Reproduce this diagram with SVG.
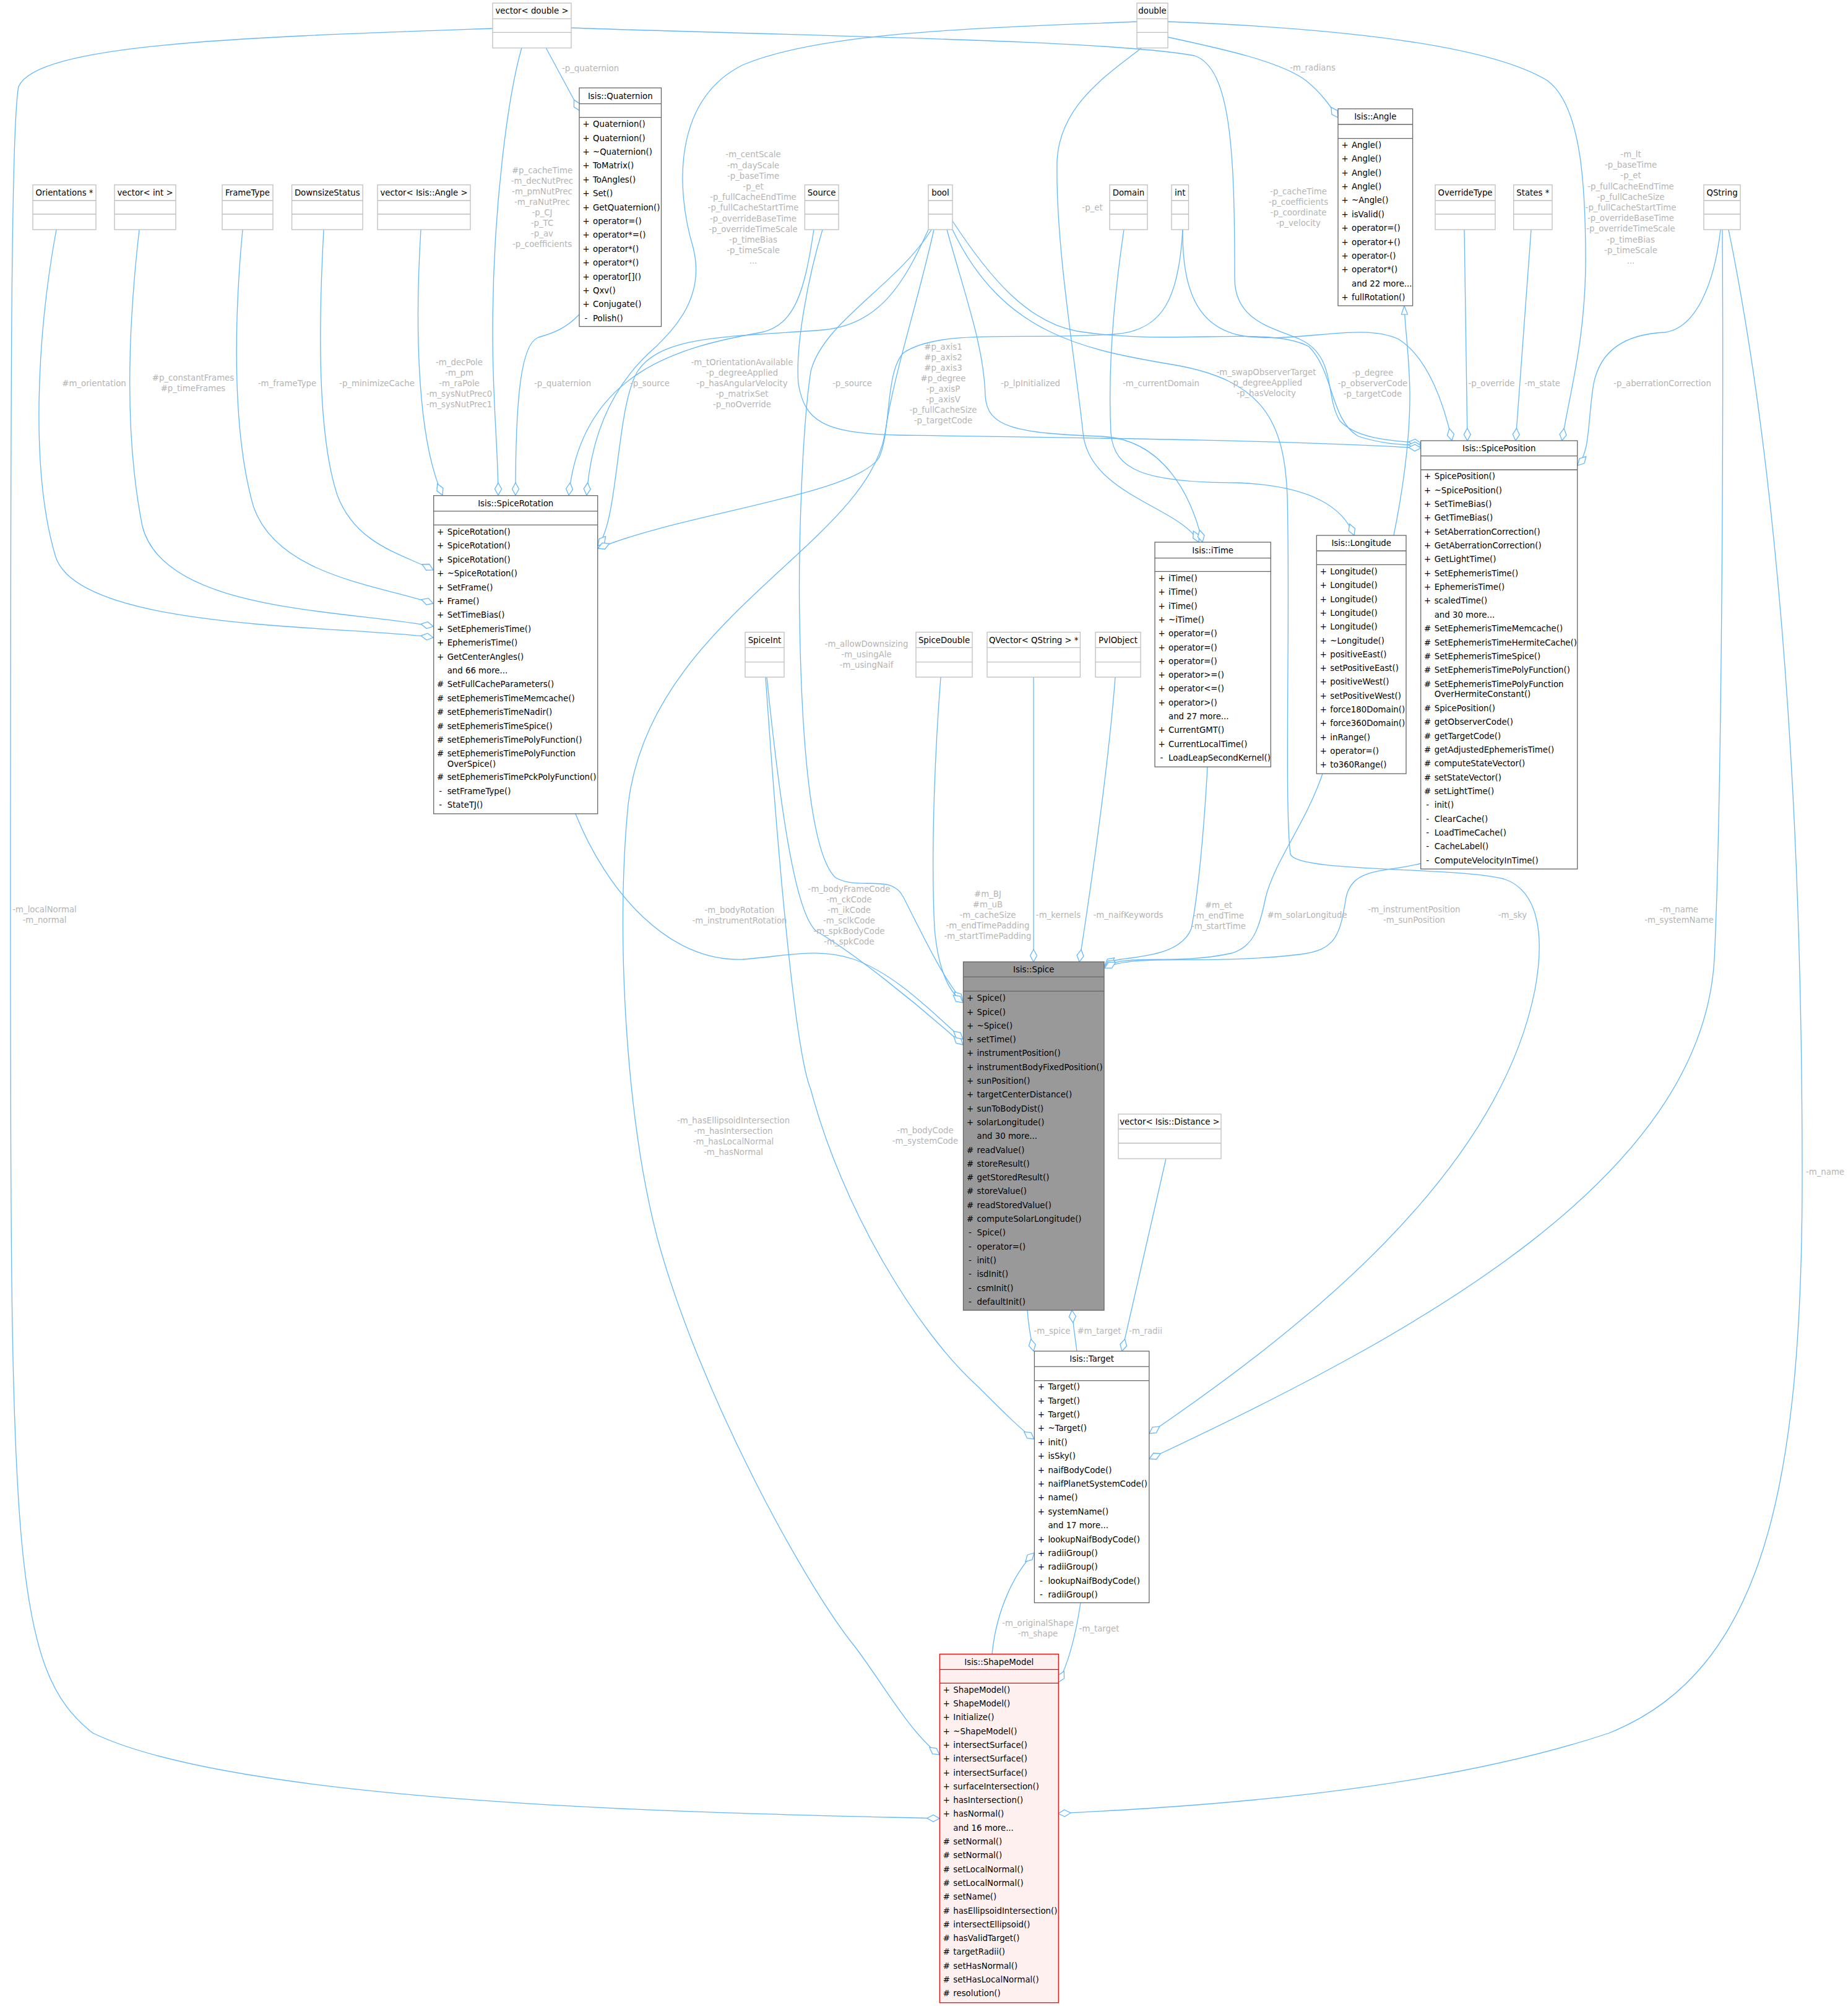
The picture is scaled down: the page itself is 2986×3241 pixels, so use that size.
<svg xmlns="http://www.w3.org/2000/svg" width="2986" height="3241" viewBox="0 0 2986 3241">
<defs>
<style>
text{font-family:"DejaVu Sans","Liberation Sans",sans-serif;font-size:13.3px;fill:#000}
.c{text-anchor:middle}
.l{fill:#b4b4b4;text-anchor:middle}
.b{fill:#fff;stroke:#666;stroke-width:1.3}
.g{fill:#fff;stroke:#bfbfbf;stroke-width:1.3}
.gl{fill:none;stroke:#bfbfbf;stroke-width:1.3}
.bl{fill:none;stroke:#666;stroke-width:1.3}
.e{fill:none;stroke:#63b8ff;stroke-width:1.3;marker-end:url(#d)}
.i{fill:none;stroke:#63b8ff;stroke-width:1.3;marker-end:url(#t)}
</style>
<marker id="d" markerUnits="userSpaceOnUse" markerWidth="22" markerHeight="13" viewBox="-1 -1 22 13" refX="20" refY="5.5" orient="auto"><path d="M0,5.5L10,0L20,5.5L10,11Z" fill="#fff" stroke="#63b8ff" stroke-width="1.3"/></marker>
<marker id="t" markerUnits="userSpaceOnUse" markerWidth="16" markerHeight="12" viewBox="-1 -1 16 12" refX="14" refY="5" orient="auto"><path d="M0,0L14,5L0,10Z" fill="#fff" stroke="#63b8ff" stroke-width="1.3"/></marker>
</defs>
<rect width="2986" height="3241" fill="#fff"/>

<g id="edges">
<path class="e" d="M882,77 L937,179"/>
<path class="e" d="M843,77 C822,150 796,330 796,540 C796,650 805,730 805,800"/>
<path class="e" d="M936,508 C915,530 895,538 870,545 C842,555 833,640 833,800"/>
<path class="e" d="M680,371 C672,500 670,700 715,800"/>
<path class="e" d="M523,371 C515,520 512,700 545,800 C575,880 650,895 700,921"/>
<path class="e" d="M392,371 C378,520 375,700 410,820 C450,930 610,945 700,975"/>
<path class="e" d="M225,371 C208,520 200,700 230,850 C265,990 560,985 700,1012"/>
<path class="e" d="M91,371 C60,540 48,760 90,900 C130,1020 560,1010 700,1030"/>
<path class="e" d="M1315,371 C1300,470 1285,525 1230,537 C1100,560 940,600 919,800"/>
<path class="e" d="M1837,35 C1600,45 1330,50 1200,105 C1090,160 1090,300 1120,400 C1140,480 1090,530 1060,560 C990,620 955,700 948,800"/>
<path class="e" d="M1500,371 C1460,460 1420,525 1330,533 C1180,545 1070,540 1030,600 C995,660 1000,840 966,882"/>
<path class="e" d="M1911,371 C1905,480 1880,535 1800,540 C1650,550 1520,530 1460,570 C1430,600 1440,700 1420,740 C1380,800 1100,830 966,886"/>
<path class="e" d="M923,45 C1300,58 1800,65 1930,90 C1990,110 1995,250 1995,450 C1995,520 2060,530 2100,548 C2160,575 2140,640 2165,680 C2195,712 2260,712 2296,716"/>
<path class="e" d="M1887,35 C2150,45 2400,70 2500,130 C2555,170 2562,300 2562,420 C2562,550 2535,640 2524,712"/>
<path class="e" d="M1911,371 C1910,460 1930,530 2010,543 C2100,555 2200,520 2260,548 C2310,580 2335,660 2346,712"/>
<path class="e" d="M2366,371 L2371,712"/>
<path class="e" d="M2474,371 L2449,712"/>
<path class="e" d="M2780,371 C2770,460 2740,530 2690,537 C2620,540 2585,570 2575,620 C2565,680 2570,730 2549,752"/>
<path class="e" d="M1539,357 C1600,450 1660,520 1740,535 C1900,560 2050,525 2115,560 C2155,600 2150,680 2195,705 C2235,718 2265,718 2296,720"/>
<path class="e" d="M1329,371 C1305,450 1285,560 1290,620 C1300,680 1330,700 1450,703 C1800,708 2100,712 2296,724"/>
<path class="e" d="M1887,60 C1980,80 2070,100 2110,130 C2135,150 2150,172 2162,190"/>
<path class="i" d="M2252,865 C2265,800 2278,720 2278,640 C2278,580 2270,530 2269,494"/>
<path class="e" d="M1845,77 C1790,120 1712,170 1708,260 C1705,400 1740,600 1750,700 C1760,800 1910,820 1937,876"/>
<path class="e" d="M1530,371 C1560,480 1590,560 1592,640 C1595,690 1640,700 1780,705 C1880,710 1925,800 1943,876"/>
<path class="e" d="M1816,371 C1800,480 1790,600 1795,700 C1800,760 1850,780 2000,780 C2120,785 2170,820 2188,865"/>
<path class="e" d="M1539,371 C1620,540 1750,565 1900,590 C2040,615 2075,680 2080,800 C2085,1000 2075,1300 2085,1380 C2095,1410 2350,1400 2430,1420 C2490,1440 2495,1520 2480,1600 C2420,1900 2100,2150 1857,2316"/>
<path class="e" d="M2783,371 C2785,700 2782,1300 2770,1550 C2750,1900 2300,2150 1857,2357"/>
<path class="e" d="M2793,371 C2860,700 2912,1200 2912,1900 C2912,2400 2850,2700 2600,2800 C2300,2900 1900,2920 1710,2930"/>
<path class="e" d="M796,46 C400,60 60,70 30,140 C18,200 17,600 17,1500 C17,2500 20,2700 150,2800 C400,2920 1200,2930 1518,2938"/>
<path class="e" d="M1509,371 C1480,500 1445,600 1430,700 C1400,880 1050,1000 1015,1300 C995,1500 1010,1800 1062,2000 C1130,2250 1300,2560 1381,2660 C1420,2710 1470,2800 1518,2835"/>
<path class="e" d="M1505,371 C1450,460 1330,520 1310,600 C1295,700 1290,900 1292,1000 C1295,1200 1310,1380 1350,1418 C1390,1440 1440,1410 1460,1450 C1500,1530 1530,1590 1556,1617"/>
<path class="e" d="M1520,1094 C1508,1250 1505,1400 1510,1500 C1515,1560 1530,1600 1556,1620"/>
<path class="e" d="M1239,1094 C1260,1300 1285,1480 1320,1505 C1380,1540 1480,1620 1556,1688"/>
<path class="e" d="M930,1315 C980,1440 1080,1555 1200,1550 C1270,1545 1320,1530 1380,1550 C1450,1575 1510,1640 1556,1679"/>
<path class="e" d="M1670,1094 L1670,1554"/>
<path class="e" d="M1802,1094 C1790,1250 1760,1450 1744,1554"/>
<path class="e" d="M1951,1239 C1945,1350 1935,1450 1925,1500 C1910,1540 1850,1545 1810,1550 C1798,1552 1790,1556 1785,1560"/>
<path class="e" d="M2137,1250 C2110,1330 2060,1390 2045,1450 C2035,1500 2025,1530 1990,1540 C1900,1560 1820,1540 1785,1562"/>
<path class="e" d="M2296,1395 C2240,1410 2185,1400 2175,1450 C2165,1510 2160,1535 2100,1542 C1950,1560 1830,1540 1785,1564"/>
<path class="e" d="M1660,2117 C1662,2145 1666,2165 1670,2183"/>
<path class="e" d="M1740,2183 C1737,2160 1734,2140 1732,2117"/>
<path class="e" d="M1884,1872 L1813,2183"/>
<path class="e" d="M1237,1094 C1258,1400 1285,1700 1310,1760 C1360,1950 1480,2150 1580,2240 C1620,2280 1650,2310 1671,2325"/>
<path class="e" d="M1746,2589 C1740,2630 1730,2680 1710,2718"/>
<path class="e" d="M1603,2672 C1610,2600 1640,2540 1671,2509"/>
</g>

<g id="labels">
<text class="l" x="954" y="114.7">-p_quaternion</text>
<text class="l" y="280.2"><tspan x="876">#p_cacheTime</tspan><tspan x="876" dy="17">-m_decNutPrec</tspan><tspan x="876" dy="17">-m_pmNutPrec</tspan><tspan x="876" dy="17">-m_raNutPrec</tspan><tspan x="876" dy="17">-p_CJ</tspan><tspan x="876" dy="17">-p_TC</tspan><tspan x="876" dy="17">-p_av</tspan><tspan x="876" dy="17">-p_coefficients</tspan></text>
<text class="l" y="254.4"><tspan x="1217">-m_centScale</tspan><tspan x="1217" dy="17.2">-m_dayScale</tspan><tspan x="1217" dy="17.2">-p_baseTime</tspan><tspan x="1217" dy="17.2">-p_et</tspan><tspan x="1217" dy="17.2">-p_fullCacheEndTime</tspan><tspan x="1217" dy="17.2">-p_fullCacheStartTime</tspan><tspan x="1217" dy="17.2">-p_overrideBaseTime</tspan><tspan x="1217" dy="17.2">-p_overrideTimeScale</tspan><tspan x="1217" dy="17.2">-p_timeBias</tspan><tspan x="1217" dy="17.2">-p_timeScale</tspan><tspan x="1217" dy="17.2">...</tspan></text>
<text class="l" x="2121" y="113.7">-m_radians</text>
<text class="l" y="254"><tspan x="2635">-m_lt</tspan><tspan x="2635" dy="17.2">-p_baseTime</tspan><tspan x="2635" dy="17.2">-p_et</tspan><tspan x="2635" dy="17.2">-p_fullCacheEndTime</tspan><tspan x="2635" dy="17.2">-p_fullCacheSize</tspan><tspan x="2635" dy="17.2">-p_fullCacheStartTime</tspan><tspan x="2635" dy="17.2">-p_overrideBaseTime</tspan><tspan x="2635" dy="17.2">-p_overrideTimeScale</tspan><tspan x="2635" dy="17.2">-p_timeBias</tspan><tspan x="2635" dy="17.2">-p_timeScale</tspan><tspan x="2635" dy="17.2">...</tspan></text>
<text class="l" y="313.7"><tspan x="2098">-p_cacheTime</tspan><tspan x="2098" dy="17">-p_coefficients</tspan><tspan x="2098" dy="17">-p_coordinate</tspan><tspan x="2098" dy="17">-p_velocity</tspan></text>
<text class="l" x="1765" y="339.7">-p_et</text>
<text class="l" x="152" y="624">#m_orientation</text>
<text class="l" y="615.4"><tspan x="312">#p_constantFrames</tspan><tspan x="312" dy="17">#p_timeFrames</tspan></text>
<text class="l" x="464" y="624">-m_frameType</text>
<text class="l" x="609" y="624">-p_minimizeCache</text>
<text class="l" y="589.7"><tspan x="742">-m_decPole</tspan><tspan x="742" dy="17">-m_pm</tspan><tspan x="742" dy="17">-m_raPole</tspan><tspan x="742" dy="17">-m_sysNutPrec0</tspan><tspan x="742" dy="17">-m_sysNutPrec1</tspan></text>
<text class="l" x="909" y="623.7">-p_quaternion</text>
<text class="l" x="1050" y="623.7">-p_source</text>
<text class="l" y="590.4"><tspan x="1199">-m_tOrientationAvailable</tspan><tspan x="1199" dy="17">-p_degreeApplied</tspan><tspan x="1199" dy="17">-p_hasAngularVelocity</tspan><tspan x="1199" dy="17">-p_matrixSet</tspan><tspan x="1199" dy="17">-p_noOverride</tspan></text>
<text class="l" x="1377" y="624">-p_source</text>
<text class="l" y="564.7"><tspan x="1524">#p_axis1</tspan><tspan x="1524" dy="17">#p_axis2</tspan><tspan x="1524" dy="17">#p_axis3</tspan><tspan x="1524" dy="17">#p_degree</tspan><tspan x="1524" dy="17">-p_axisP</tspan><tspan x="1524" dy="17">-p_axisV</tspan><tspan x="1524" dy="17">-p_fullCacheSize</tspan><tspan x="1524" dy="17">-p_targetCode</tspan></text>
<text class="l" x="1665" y="623.7">-p_lpInitialized</text>
<text class="l" x="1876" y="623.7">-m_currentDomain</text>
<text class="l" y="606.2"><tspan x="2046">-m_swapObserverTarget</tspan><tspan x="2046" dy="17">-p_degreeApplied</tspan><tspan x="2046" dy="17">-p_hasVelocity</tspan></text>
<text class="l" y="607.1"><tspan x="2218">-p_degree</tspan><tspan x="2218" dy="17">-p_observerCode</tspan><tspan x="2218" dy="17">-p_targetCode</tspan></text>
<text class="l" x="2410" y="624.1">-p_override</text>
<text class="l" x="2492" y="624.1">-m_state</text>
<text class="l" x="2686" y="624.1">-p_aberrationCorrection</text>
<text class="l" y="1044.7"><tspan x="1400">-m_allowDownsizing</tspan><tspan x="1400" dy="17">-m_usingAle</tspan><tspan x="1400" dy="17">-m_usingNaif</tspan></text>
<text class="l" y="1473.7"><tspan x="72">-m_localNormal</tspan><tspan x="72" dy="17">-m_normal</tspan></text>
<text class="l" y="1474.7"><tspan x="1195">-m_bodyRotation</tspan><tspan x="1195" dy="17">-m_instrumentRotation</tspan></text>
<text class="l" y="1440.7"><tspan x="1372">-m_bodyFrameCode</tspan><tspan x="1372" dy="17">-m_ckCode</tspan><tspan x="1372" dy="17">-m_ikCode</tspan><tspan x="1372" dy="17">-m_sclkCode</tspan><tspan x="1372" dy="17">-m_spkBodyCode</tspan><tspan x="1372" dy="17">-m_spkCode</tspan></text>
<text class="l" y="1449.3"><tspan x="1596">#m_BJ</tspan><tspan x="1596" dy="17">#m_uB</tspan><tspan x="1596" dy="17">-m_cacheSize</tspan><tspan x="1596" dy="17">-m_endTimePadding</tspan><tspan x="1596" dy="17">-m_startTimePadding</tspan></text>
<text class="l" x="1710" y="1483.3">-m_kernels</text>
<text class="l" x="1823" y="1483.3">-m_naifKeywords</text>
<text class="l" y="1466.5"><tspan x="1969">#m_et</tspan><tspan x="1969" dy="17">-m_endTime</tspan><tspan x="1969" dy="17">-m_startTime</tspan></text>
<text class="l" x="2112" y="1482.7">#m_solarLongitude</text>
<text class="l" y="1473.7"><tspan x="2285">-m_instrumentPosition</tspan><tspan x="2285" dy="17">-m_sunPosition</tspan></text>
<text class="l" x="2444" y="1482.7">-m_sky</text>
<text class="l" y="1473.7"><tspan x="2713">-m_name</tspan><tspan x="2713" dy="17">-m_systemName</tspan></text>
<text class="l" y="1814.7"><tspan x="1185">-m_hasEllipsoidIntersection</tspan><tspan x="1185" dy="17">-m_hasIntersection</tspan><tspan x="1185" dy="17">-m_hasLocalNormal</tspan><tspan x="1185" dy="17">-m_hasNormal</tspan></text>
<text class="l" y="1831.3"><tspan x="1495">-m_bodyCode</tspan><tspan x="1495" dy="17">-m_systemCode</tspan></text>
<text class="l" x="2949" y="1897.7">-m_name</text>
<text class="l" x="1700" y="2154.5">-m_spice</text>
<text class="l" x="1776" y="2154.5">#m_target</text>
<text class="l" x="1851" y="2154.5">-m_radii</text>
<text class="l" y="2626.7"><tspan x="1677">-m_originalShape</tspan><tspan x="1677" dy="17">-m_shape</tspan></text>
<text class="l" x="1776" y="2635.7">-m_target</text>
</g>

<g id="vector_double"><rect class="g" x="796" y="5" width="127" height="72.5"/><path class="gl" d="M796,30.3H923M796,52.3H923"/><text class="c" x="859.5" y="22.4">vector&lt; double &gt;</text></g>
<g id="double"><rect class="g" x="1837" y="5" width="50" height="72.5"/><path class="gl" d="M1837,30.3H1887M1837,52.3H1887"/><text class="c" x="1862" y="22.4">double</text></g>
<g id="orientations"><rect class="g" x="53" y="298.7" width="102" height="72.3"/><path class="gl" d="M53,324H155M53,346H155"/><text class="c" x="104" y="316.1">Orientations *</text></g>
<g id="vector_int"><rect class="g" x="185" y="298.7" width="99" height="72.3"/><path class="gl" d="M185,324H284M185,346H284"/><text class="c" x="234.5" y="316.1">vector&lt; int &gt;</text></g>
<g id="frametype"><rect class="g" x="359" y="298.7" width="82" height="72.3"/><path class="gl" d="M359,324H441M359,346H441"/><text class="c" x="400" y="316.1">FrameType</text></g>
<g id="downsizestatus"><rect class="g" x="471.6" y="298.7" width="114.5" height="72.3"/><path class="gl" d="M471.6,324H586.1M471.6,346H586.1"/><text class="c" x="528.8" y="316.1">DownsizeStatus</text></g>
<g id="vector_angle"><rect class="g" x="610" y="298.7" width="150" height="72.3"/><path class="gl" d="M610,324H760M610,346H760"/><text class="c" x="685" y="316.1">vector&lt; Isis::Angle &gt;</text></g>
<g id="source"><rect class="g" x="1300.4" y="298.7" width="54.6" height="72.3"/><path class="gl" d="M1300.4,324H1355M1300.4,346H1355"/><text class="c" x="1327.7" y="316.1">Source</text></g>
<g id="bool"><rect class="g" x="1500" y="298.7" width="39" height="72.3"/><path class="gl" d="M1500,324H1539M1500,346H1539"/><text class="c" x="1519.5" y="316.1">bool</text></g>
<g id="domain"><rect class="g" x="1793" y="298.7" width="61" height="72.3"/><path class="gl" d="M1793,324H1854M1793,346H1854"/><text class="c" x="1823.5" y="316.1">Domain</text></g>
<g id="int"><rect class="g" x="1893" y="298.7" width="27.5" height="72.3"/><path class="gl" d="M1893,324H1920.5M1893,346H1920.5"/><text class="c" x="1906.7" y="316.1">int</text></g>
<g id="overridetype"><rect class="g" x="2319" y="298.7" width="97" height="72.3"/><path class="gl" d="M2319,324H2416M2319,346H2416"/><text class="c" x="2367.5" y="316.1">OverrideType</text></g>
<g id="states"><rect class="g" x="2445.7" y="298.7" width="62.3" height="72.3"/><path class="gl" d="M2445.7,324H2508M2445.7,346H2508"/><text class="c" x="2476.8" y="316.1">States *</text></g>
<g id="qstring"><rect class="g" x="2753" y="298.7" width="59" height="72.3"/><path class="gl" d="M2753,324H2812M2753,346H2812"/><text class="c" x="2782.5" y="316.1">QString</text></g>
<g id="spiceint"><rect class="g" x="1204" y="1021.4" width="63" height="72.6"/><path class="gl" d="M1204,1046.4H1267M1204,1069.6H1267"/><text class="c" x="1235.5" y="1038.8">SpiceInt</text></g>
<g id="spicedouble"><rect class="g" x="1480" y="1021.4" width="91" height="72.6"/><path class="gl" d="M1480,1046.4H1571M1480,1069.6H1571"/><text class="c" x="1525.5" y="1038.8">SpiceDouble</text></g>
<g id="qvector"><rect class="g" x="1595" y="1021.4" width="150.4" height="72.6"/><path class="gl" d="M1595,1046.4H1745.4M1595,1069.6H1745.4"/><text class="c" x="1670.2" y="1038.8">QVector&lt; QString &gt; *</text></g>
<g id="pvlobject"><rect class="g" x="1770" y="1021.4" width="73" height="72.6"/><path class="gl" d="M1770,1046.4H1843M1770,1069.6H1843"/><text class="c" x="1806.5" y="1038.8">PvlObject</text></g>
<g id="vector_distance"><rect class="g" x="1807" y="1800" width="166" height="72"/><path class="gl" d="M1807,1824H1973M1807,1847H1973"/><text class="c" x="1890" y="1817.4">vector&lt; Isis::Distance &gt;</text></g>

<g id="quaternion"><rect class="b" x="936" y="142" width="132.5" height="385.5"/><path class="bl" d="M936,167.7H1068.5M936,189.7H1068.5"/><text class="c" x="1002.3" y="159.7">Isis::Quaternion</text>
<text class="c" x="947" y="205.1">+</text><text x="958" y="205.1">Quaternion()</text>
<text class="c" x="947" y="227.5">+</text><text x="958" y="227.5">Quaternion()</text>
<text class="c" x="947" y="249.9">+</text><text x="958" y="249.9">~Quaternion()</text>
<text class="c" x="947" y="272.3">+</text><text x="958" y="272.3">ToMatrix()</text>
<text class="c" x="947" y="294.7">+</text><text x="958" y="294.7">ToAngles()</text>
<text class="c" x="947" y="317.1">+</text><text x="958" y="317.1">Set()</text>
<text class="c" x="947" y="339.5">+</text><text x="958" y="339.5">GetQuaternion()</text>
<text class="c" x="947" y="361.9">+</text><text x="958" y="361.9">operator=()</text>
<text class="c" x="947" y="384.3">+</text><text x="958" y="384.3">operator*=()</text>
<text class="c" x="947" y="406.7">+</text><text x="958" y="406.7">operator*()</text>
<text class="c" x="947" y="429.1">+</text><text x="958" y="429.1">operator*()</text>
<text class="c" x="947" y="451.5">+</text><text x="958" y="451.5">operator[]()</text>
<text class="c" x="947" y="473.9">+</text><text x="958" y="473.9">Qxv()</text>
<text class="c" x="947" y="496.3">+</text><text x="958" y="496.3">Conjugate()</text>
<text class="c" x="947" y="518.7">-</text><text x="958" y="518.7">Polish()</text>
</g>

<g id="spicerotation"><rect class="b" x="700.7" y="800.7" width="265" height="514.1"/><path class="bl" d="M700.7,825.8H965.7M700.7,848.2H965.7"/><text class="c" x="833.2" y="818">Isis::SpiceRotation</text>
<text class="c" x="711.7" y="863.9">+</text><text x="722.7" y="863.9">SpiceRotation()</text>
<text class="c" x="711.7" y="886.3">+</text><text x="722.7" y="886.3">SpiceRotation()</text>
<text class="c" x="711.7" y="908.7">+</text><text x="722.7" y="908.7">SpiceRotation()</text>
<text class="c" x="711.7" y="931.1">+</text><text x="722.7" y="931.1">~SpiceRotation()</text>
<text class="c" x="711.7" y="953.5">+</text><text x="722.7" y="953.5">SetFrame()</text>
<text class="c" x="711.7" y="975.9">+</text><text x="722.7" y="975.9">Frame()</text>
<text class="c" x="711.7" y="998.3">+</text><text x="722.7" y="998.3">SetTimeBias()</text>
<text class="c" x="711.7" y="1020.7">+</text><text x="722.7" y="1020.7">SetEphemerisTime()</text>
<text class="c" x="711.7" y="1043.1">+</text><text x="722.7" y="1043.1">EphemerisTime()</text>
<text class="c" x="711.7" y="1065.5">+</text><text x="722.7" y="1065.5">GetCenterAngles()</text>
<text x="722.7" y="1087.9">and 66 more...</text>
<text class="c" x="711.7" y="1110.3">#</text><text x="722.7" y="1110.3">SetFullCacheParameters()</text>
<text class="c" x="711.7" y="1132.7">#</text><text x="722.7" y="1132.7">setEphemerisTimeMemcache()</text>
<text class="c" x="711.7" y="1155.1">#</text><text x="722.7" y="1155.1">setEphemerisTimeNadir()</text>
<text class="c" x="711.7" y="1177.5">#</text><text x="722.7" y="1177.5">setEphemerisTimeSpice()</text>
<text class="c" x="711.7" y="1199.9">#</text><text x="722.7" y="1199.9">setEphemerisTimePolyFunction()</text>
<text class="c" x="711.7" y="1222.3">#</text><text x="722.7" y="1222.3">setEphemerisTimePolyFunction</text>
<text x="722.7" y="1238.9">OverSpice()</text>
<text class="c" x="711.7" y="1260.2">#</text><text x="722.7" y="1260.2">setEphemerisTimePckPolyFunction()</text>
<text class="c" x="711.7" y="1282.6">-</text><text x="722.7" y="1282.6">setFrameType()</text>
<text class="c" x="711.7" y="1305">-</text><text x="722.7" y="1305">StateTJ()</text>
</g>

<g id="spiceposition"><rect class="b" x="2295.7" y="712" width="253" height="692"/><path class="bl" d="M2295.7,736.6H2548.7M2295.7,759H2548.7"/><text class="c" x="2422.2" y="729">Isis::SpicePosition</text>
<text class="c" x="2306.7" y="774.3">+</text><text x="2317.7" y="774.3">SpicePosition()</text>
<text class="c" x="2306.7" y="796.6">+</text><text x="2317.7" y="796.6">~SpicePosition()</text>
<text class="c" x="2306.7" y="819">+</text><text x="2317.7" y="819">SetTimeBias()</text>
<text class="c" x="2306.7" y="841.3">+</text><text x="2317.7" y="841.3">GetTimeBias()</text>
<text class="c" x="2306.7" y="863.7">+</text><text x="2317.7" y="863.7">SetAberrationCorrection()</text>
<text class="c" x="2306.7" y="886">+</text><text x="2317.7" y="886">GetAberrationCorrection()</text>
<text class="c" x="2306.7" y="908.4">+</text><text x="2317.7" y="908.4">GetLightTime()</text>
<text class="c" x="2306.7" y="930.7">+</text><text x="2317.7" y="930.7">SetEphemerisTime()</text>
<text class="c" x="2306.7" y="953.1">+</text><text x="2317.7" y="953.1">EphemerisTime()</text>
<text class="c" x="2306.7" y="975.4">+</text><text x="2317.7" y="975.4">scaledTime()</text>
<text x="2317.7" y="997.8">and 30 more...</text>
<text class="c" x="2306.7" y="1020.1">#</text><text x="2317.7" y="1020.1">SetEphemerisTimeMemcache()</text>
<text class="c" x="2306.7" y="1042.5">#</text><text x="2317.7" y="1042.5">SetEphemerisTimeHermiteCache()</text>
<text class="c" x="2306.7" y="1064.8">#</text><text x="2317.7" y="1064.8">SetEphemerisTimeSpice()</text>
<text class="c" x="2306.7" y="1087.2">#</text><text x="2317.7" y="1087.2">SetEphemerisTimePolyFunction()</text>
<text class="c" x="2306.7" y="1109.5">#</text><text x="2317.7" y="1109.5">SetEphemerisTimePolyFunction</text>
<text x="2317.7" y="1126.3">OverHermiteConstant()</text>
<text class="c" x="2306.7" y="1148.9">#</text><text x="2317.7" y="1148.9">SpicePosition()</text>
<text class="c" x="2306.7" y="1171.2">#</text><text x="2317.7" y="1171.2">getObserverCode()</text>
<text class="c" x="2306.7" y="1193.6">#</text><text x="2317.7" y="1193.6">getTargetCode()</text>
<text class="c" x="2306.7" y="1215.9">#</text><text x="2317.7" y="1215.9">getAdjustedEphemerisTime()</text>
<text class="c" x="2306.7" y="1238.3">#</text><text x="2317.7" y="1238.3">computeStateVector()</text>
<text class="c" x="2306.7" y="1260.6">#</text><text x="2317.7" y="1260.6">setStateVector()</text>
<text class="c" x="2306.7" y="1283">#</text><text x="2317.7" y="1283">setLightTime()</text>
<text class="c" x="2306.7" y="1305.3">-</text><text x="2317.7" y="1305.3">init()</text>
<text class="c" x="2306.7" y="1327.7">-</text><text x="2317.7" y="1327.7">ClearCache()</text>
<text class="c" x="2306.7" y="1350">-</text><text x="2317.7" y="1350">LoadTimeCache()</text>
<text class="c" x="2306.7" y="1372.4">-</text><text x="2317.7" y="1372.4">CacheLabel()</text>
<text class="c" x="2306.7" y="1394.7">-</text><text x="2317.7" y="1394.7">ComputeVelocityInTime()</text>
</g>

<g id="itime"><rect class="b" x="1866" y="876" width="187.3" height="363"/><path class="bl" d="M1866,901.7H2053.3M1866,923.3H2053.3"/><text class="c" x="1959.7" y="893.6">Isis::iTime</text>
<text class="c" x="1877" y="939">+</text><text x="1888" y="939">iTime()</text>
<text class="c" x="1877" y="961.3">+</text><text x="1888" y="961.3">iTime()</text>
<text class="c" x="1877" y="983.6">+</text><text x="1888" y="983.6">iTime()</text>
<text class="c" x="1877" y="1005.9">+</text><text x="1888" y="1005.9">~iTime()</text>
<text class="c" x="1877" y="1028.2">+</text><text x="1888" y="1028.2">operator=()</text>
<text class="c" x="1877" y="1050.5">+</text><text x="1888" y="1050.5">operator=()</text>
<text class="c" x="1877" y="1072.8">+</text><text x="1888" y="1072.8">operator=()</text>
<text class="c" x="1877" y="1095.1">+</text><text x="1888" y="1095.1">operator&gt;=()</text>
<text class="c" x="1877" y="1117.4">+</text><text x="1888" y="1117.4">operator&lt;=()</text>
<text class="c" x="1877" y="1139.7">+</text><text x="1888" y="1139.7">operator&gt;()</text>
<text x="1888" y="1162">and 27 more...</text>
<text class="c" x="1877" y="1184.3">+</text><text x="1888" y="1184.3">CurrentGMT()</text>
<text class="c" x="1877" y="1206.6">+</text><text x="1888" y="1206.6">CurrentLocalTime()</text>
<text class="c" x="1877" y="1228.9">-</text><text x="1888" y="1228.9">LoadLeapSecondKernel()</text>
</g>

<g id="longitude"><rect class="b" x="2127.3" y="865" width="144.7" height="385"/><path class="bl" d="M2127.3,890H2272M2127.3,912.3H2272"/><text class="c" x="2199.7" y="882.2">Isis::Longitude</text>
<text class="c" x="2138.3" y="928">+</text><text x="2149.3" y="928">Longitude()</text>
<text class="c" x="2138.3" y="950.3">+</text><text x="2149.3" y="950.3">Longitude()</text>
<text class="c" x="2138.3" y="972.6">+</text><text x="2149.3" y="972.6">Longitude()</text>
<text class="c" x="2138.3" y="994.9">+</text><text x="2149.3" y="994.9">Longitude()</text>
<text class="c" x="2138.3" y="1017.2">+</text><text x="2149.3" y="1017.2">Longitude()</text>
<text class="c" x="2138.3" y="1039.5">+</text><text x="2149.3" y="1039.5">~Longitude()</text>
<text class="c" x="2138.3" y="1061.8">+</text><text x="2149.3" y="1061.8">positiveEast()</text>
<text class="c" x="2138.3" y="1084.1">+</text><text x="2149.3" y="1084.1">setPositiveEast()</text>
<text class="c" x="2138.3" y="1106.4">+</text><text x="2149.3" y="1106.4">positiveWest()</text>
<text class="c" x="2138.3" y="1128.7">+</text><text x="2149.3" y="1128.7">setPositiveWest()</text>
<text class="c" x="2138.3" y="1151">+</text><text x="2149.3" y="1151">force180Domain()</text>
<text class="c" x="2138.3" y="1173.3">+</text><text x="2149.3" y="1173.3">force360Domain()</text>
<text class="c" x="2138.3" y="1195.6">+</text><text x="2149.3" y="1195.6">inRange()</text>
<text class="c" x="2138.3" y="1217.9">+</text><text x="2149.3" y="1217.9">operator=()</text>
<text class="c" x="2138.3" y="1240.2">+</text><text x="2149.3" y="1240.2">to360Range()</text>
</g>

<g id="angle"><rect class="b" x="2162" y="175.8" width="120.6" height="318.2"/><path class="bl" d="M2162,201H2282.6M2162,223.6H2282.6"/><text class="c" x="2222.3" y="193.1">Isis::Angle</text>
<text class="c" x="2173" y="238.7">+</text><text x="2184" y="238.7">Angle()</text>
<text class="c" x="2173" y="261.1">+</text><text x="2184" y="261.1">Angle()</text>
<text class="c" x="2173" y="283.5">+</text><text x="2184" y="283.5">Angle()</text>
<text class="c" x="2173" y="305.9">+</text><text x="2184" y="305.9">Angle()</text>
<text class="c" x="2173" y="328.3">+</text><text x="2184" y="328.3">~Angle()</text>
<text class="c" x="2173" y="350.7">+</text><text x="2184" y="350.7">isValid()</text>
<text class="c" x="2173" y="373.1">+</text><text x="2184" y="373.1">operator=()</text>
<text class="c" x="2173" y="395.5">+</text><text x="2184" y="395.5">operator+()</text>
<text class="c" x="2173" y="417.9">+</text><text x="2184" y="417.9">operator-()</text>
<text class="c" x="2173" y="440.3">+</text><text x="2184" y="440.3">operator*()</text>
<text x="2184" y="462.7">and 22 more...</text>
<text class="c" x="2173" y="485.1">+</text><text x="2184" y="485.1">fullRotation()</text>
</g>

<g id="spice"><rect x="1556.5" y="1554" width="227.5" height="563" fill="#999" stroke="#666" stroke-width="1.3"/><path class="bl" d="M1556.5,1578.4H1784M1556.5,1601.3H1784"/><text class="c" x="1670.3" y="1570.9">Isis::Spice</text>
<text class="c" x="1567.5" y="1617.2">+</text><text x="1578.5" y="1617.2">Spice()</text>
<text class="c" x="1567.5" y="1639.5">+</text><text x="1578.5" y="1639.5">Spice()</text>
<text class="c" x="1567.5" y="1661.8">+</text><text x="1578.5" y="1661.8">~Spice()</text>
<text class="c" x="1567.5" y="1684.1">+</text><text x="1578.5" y="1684.1">setTime()</text>
<text class="c" x="1567.5" y="1706.4">+</text><text x="1578.5" y="1706.4">instrumentPosition()</text>
<text class="c" x="1567.5" y="1728.7">+</text><text x="1578.5" y="1728.7">instrumentBodyFixedPosition()</text>
<text class="c" x="1567.5" y="1751">+</text><text x="1578.5" y="1751">sunPosition()</text>
<text class="c" x="1567.5" y="1773.3">+</text><text x="1578.5" y="1773.3">targetCenterDistance()</text>
<text class="c" x="1567.5" y="1795.6">+</text><text x="1578.5" y="1795.6">sunToBodyDist()</text>
<text class="c" x="1567.5" y="1817.9">+</text><text x="1578.5" y="1817.9">solarLongitude()</text>
<text x="1578.5" y="1840.2">and 30 more...</text>
<text class="c" x="1567.5" y="1862.5">#</text><text x="1578.5" y="1862.5">readValue()</text>
<text class="c" x="1567.5" y="1884.8">#</text><text x="1578.5" y="1884.8">storeResult()</text>
<text class="c" x="1567.5" y="1907.1">#</text><text x="1578.5" y="1907.1">getStoredResult()</text>
<text class="c" x="1567.5" y="1929.4">#</text><text x="1578.5" y="1929.4">storeValue()</text>
<text class="c" x="1567.5" y="1951.7">#</text><text x="1578.5" y="1951.7">readStoredValue()</text>
<text class="c" x="1567.5" y="1974">#</text><text x="1578.5" y="1974">computeSolarLongitude()</text>
<text class="c" x="1567.5" y="1996.3">-</text><text x="1578.5" y="1996.3">Spice()</text>
<text class="c" x="1567.5" y="2018.6">-</text><text x="1578.5" y="2018.6">operator=()</text>
<text class="c" x="1567.5" y="2040.9">-</text><text x="1578.5" y="2040.9">init()</text>
<text class="c" x="1567.5" y="2063.2">-</text><text x="1578.5" y="2063.2">isdInit()</text>
<text class="c" x="1567.5" y="2085.5">-</text><text x="1578.5" y="2085.5">csmInit()</text>
<text class="c" x="1567.5" y="2107.8">-</text><text x="1578.5" y="2107.8">defaultInit()</text>
</g>

<g id="target"><rect class="b" x="1671.4" y="2183" width="185.4" height="406.5"/><path class="bl" d="M1671.4,2207.8H1856.8M1671.4,2230.7H1856.8"/><text class="c" x="1764.1" y="2200.1">Isis::Target</text>
<text class="c" x="1682.4" y="2245.2">+</text><text x="1693.4" y="2245.2">Target()</text>
<text class="c" x="1682.4" y="2267.6">+</text><text x="1693.4" y="2267.6">Target()</text>
<text class="c" x="1682.4" y="2290">+</text><text x="1693.4" y="2290">Target()</text>
<text class="c" x="1682.4" y="2312.4">+</text><text x="1693.4" y="2312.4">~Target()</text>
<text class="c" x="1682.4" y="2334.8">+</text><text x="1693.4" y="2334.8">init()</text>
<text class="c" x="1682.4" y="2357.2">+</text><text x="1693.4" y="2357.2">isSky()</text>
<text class="c" x="1682.4" y="2379.6">+</text><text x="1693.4" y="2379.6">naifBodyCode()</text>
<text class="c" x="1682.4" y="2402">+</text><text x="1693.4" y="2402">naifPlanetSystemCode()</text>
<text class="c" x="1682.4" y="2424.4">+</text><text x="1693.4" y="2424.4">name()</text>
<text class="c" x="1682.4" y="2446.8">+</text><text x="1693.4" y="2446.8">systemName()</text>
<text x="1693.4" y="2469.2">and 17 more...</text>
<text class="c" x="1682.4" y="2491.6">+</text><text x="1693.4" y="2491.6">lookupNaifBodyCode()</text>
<text class="c" x="1682.4" y="2514">+</text><text x="1693.4" y="2514">radiiGroup()</text>
<text class="c" x="1682.4" y="2536.4">+</text><text x="1693.4" y="2536.4">radiiGroup()</text>
<text class="c" x="1682.4" y="2558.8">-</text><text x="1693.4" y="2558.8">lookupNaifBodyCode()</text>
<text class="c" x="1682.4" y="2581.2">-</text><text x="1693.4" y="2581.2">radiiGroup()</text>
</g>

<g id="shapemodel"><rect x="1518.3" y="2672.4" width="192" height="563.3" fill="#fff0f0" stroke="#f00" stroke-width="1.3"/><path d="M1518.3,2697.3H1710.3M1518.3,2719.4H1710.3" fill="none" stroke="#f00" stroke-width="1.3"/><text class="c" x="1614.3" y="2689.6">Isis::ShapeModel</text>
<text class="c" x="1529.3" y="2734.7">+</text><text x="1540.3" y="2734.7">ShapeModel()</text>
<text class="c" x="1529.3" y="2757">+</text><text x="1540.3" y="2757">ShapeModel()</text>
<text class="c" x="1529.3" y="2779.3">+</text><text x="1540.3" y="2779.3">Initialize()</text>
<text class="c" x="1529.3" y="2801.6">+</text><text x="1540.3" y="2801.6">~ShapeModel()</text>
<text class="c" x="1529.3" y="2823.9">+</text><text x="1540.3" y="2823.9">intersectSurface()</text>
<text class="c" x="1529.3" y="2846.2">+</text><text x="1540.3" y="2846.2">intersectSurface()</text>
<text class="c" x="1529.3" y="2868.5">+</text><text x="1540.3" y="2868.5">intersectSurface()</text>
<text class="c" x="1529.3" y="2890.8">+</text><text x="1540.3" y="2890.8">surfaceIntersection()</text>
<text class="c" x="1529.3" y="2913.1">+</text><text x="1540.3" y="2913.1">hasIntersection()</text>
<text class="c" x="1529.3" y="2935.4">+</text><text x="1540.3" y="2935.4">hasNormal()</text>
<text x="1540.3" y="2957.7">and 16 more...</text>
<text class="c" x="1529.3" y="2980">#</text><text x="1540.3" y="2980">setNormal()</text>
<text class="c" x="1529.3" y="3002.3">#</text><text x="1540.3" y="3002.3">setNormal()</text>
<text class="c" x="1529.3" y="3024.6">#</text><text x="1540.3" y="3024.6">setLocalNormal()</text>
<text class="c" x="1529.3" y="3046.9">#</text><text x="1540.3" y="3046.9">setLocalNormal()</text>
<text class="c" x="1529.3" y="3069.2">#</text><text x="1540.3" y="3069.2">setName()</text>
<text class="c" x="1529.3" y="3091.5">#</text><text x="1540.3" y="3091.5">hasEllipsoidIntersection()</text>
<text class="c" x="1529.3" y="3113.8">#</text><text x="1540.3" y="3113.8">intersectEllipsoid()</text>
<text class="c" x="1529.3" y="3136.1">#</text><text x="1540.3" y="3136.1">hasValidTarget()</text>
<text class="c" x="1529.3" y="3158.4">#</text><text x="1540.3" y="3158.4">targetRadii()</text>
<text class="c" x="1529.3" y="3180.7">#</text><text x="1540.3" y="3180.7">setHasNormal()</text>
<text class="c" x="1529.3" y="3203">#</text><text x="1540.3" y="3203">setHasLocalNormal()</text>
<text class="c" x="1529.3" y="3225.3">#</text><text x="1540.3" y="3225.3">resolution()</text>
</g>
</svg>
